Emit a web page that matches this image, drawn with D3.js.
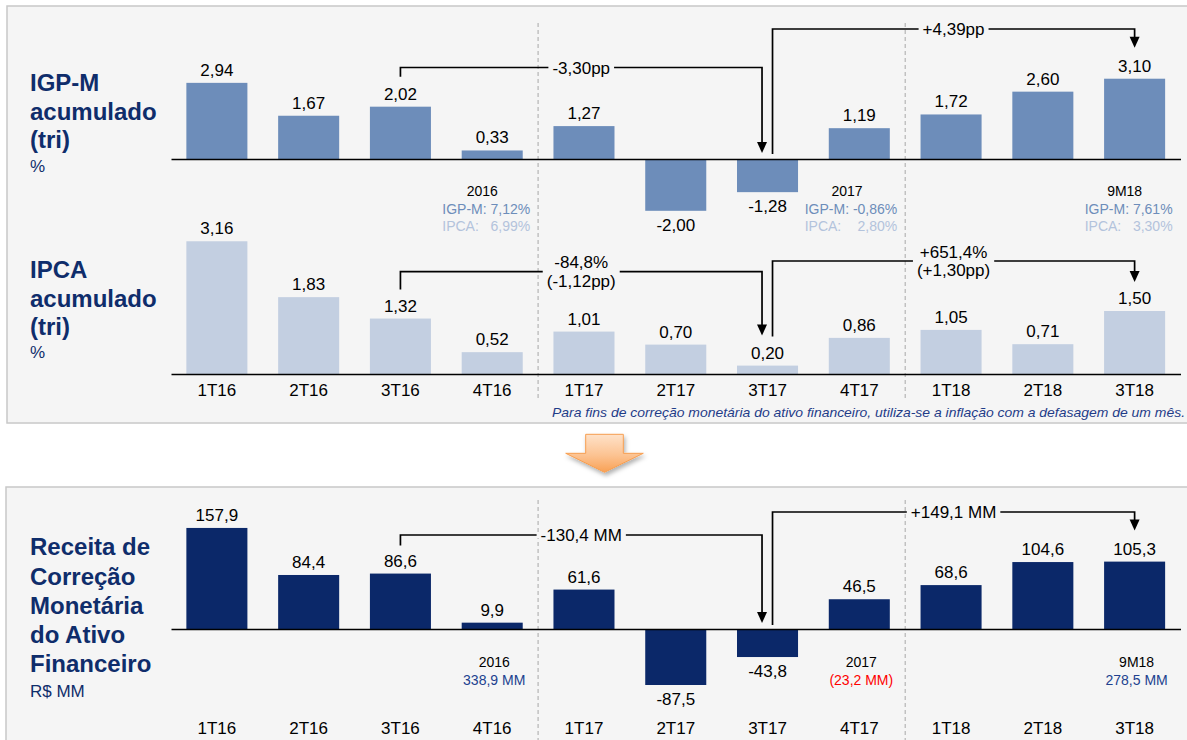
<!DOCTYPE html>
<html>
<head>
<meta charset="utf-8">
<script src="https://cdn.jsdelivr.net/npm/d3@7"></script>
<style>
  body { margin: 0; background: #ffffff; }
  svg { display: block; }
  text { font-family: "Liberation Sans", Arial, Helvetica, sans-serif; }
</style>
</head>
<body>
<svg id="chart" width="1187" height="740"></svg>
<script>
// Quarterly series
const categories = ["1T16", "2T16", "3T16", "4T16", "1T17", "2T17", "3T17", "4T17", "1T18", "2T18", "3T18"];
const igpmValues = [2.94, 1.67, 2.02, 0.33, 1.27, -2.00, -1.28, 1.19, 1.72, 2.60, 3.10];
const ipcaValues = [3.16, 1.83, 1.32, 0.52, 1.01, 0.70, 0.20, 0.86, 1.05, 0.71, 1.50];
const receitaValues = [157.9, 84.4, 86.6, 9.9, 61.6, -87.5, -43.8, 46.5, 68.6, 104.6, 105.3];

// First quarter of each new year (separators are drawn before these)
const yearStarts = ["1T17", "1T18"];

// Period-to-period changes (from 3T16 to 3T17, and from 3T17 to 3T18)
const changePeriods = [["3T16", "3T17"], ["3T17", "3T18"]];
const igpmChanges = ["-3,30pp", "+4,39pp"];
const ipcaChanges = [["-84,8%", "(-1,12pp)"], ["+651,4%", "(+1,30pp)"]];
const receitaChanges = ["-130,4 MM", "+149,1 MM"];

// Yearly totals
const totalAnchors = ["4T16", "4T17", "3T18"];
const totalPeriods = ["2016", "2017", "9M18"];
const igpmTotals = ["7,12%", "-0,86%", "7,61%"];
const ipcaTotals = ["6,99%", "2,80%", "3,30%"];
const receitaTotals = ["338,9 MM", "(23,2 MM)", "278,5 MM"];

const footnote = "Para fins de correção monetária do ativo financeiro, utiliza-se a inflação com a defasagem de um mês.";

// Colours
const navy = "#0b2869";
const titleNavy = "#0f2d6b";
const igpmColor = "#6d8dba";
const ipcaColor = "#c3cfe1";
const ipcaText = "#b3c3dc";
const panelFill = "#f5f5f5";

const svg = d3.select("#chart");
// Brazilian number format: comma decimal, plain hyphen for negatives
const ptBR = d3.formatLocale({ decimal: ",", thousands: ".", grouping: [3], currency: ["R$", ""], minus: "-" });
const fmt2 = ptBR.format(".2f");
const fmt1 = ptBR.format(".1f");

// ---------- panels ----------
svg.append("rect").attr("x", 7).attr("y", 6).attr("width", 1210).attr("height", 417)
  .attr("fill", panelFill).attr("stroke", "#c8c8c8").attr("stroke-width", 1.5);
svg.append("rect").attr("x", 6).attr("y", 487).attr("width", 1210).attr("height", 300)
  .attr("fill", panelFill).attr("stroke", "#c8c8c8").attr("stroke-width", 1.5);

// ---------- orange connector arrow ----------
const defs = svg.append("defs");
const grad = defs.append("linearGradient").attr("id", "orangeGrad")
  .attr("x1", 0).attr("y1", 0).attr("x2", 0).attr("y2", 1);
grad.append("stop").attr("offset", "0%").attr("stop-color", "#fee2c9");
grad.append("stop").attr("offset", "55%").attr("stop-color", "#fcc392");
grad.append("stop").attr("offset", "100%").attr("stop-color", "#f9a155");
const shadow = defs.append("filter").attr("id", "arrowShadow")
  .attr("x", "-30%").attr("y", "-30%").attr("width", "160%").attr("height", "160%");
shadow.append("feDropShadow").attr("dx", 1.5).attr("dy", 3).attr("stdDeviation", 2)
  .attr("flood-color", "#000").attr("flood-opacity", 0.3);

svg.append("path")
  .attr("d", "M585.7,434.3 H623.3 V453.3 H643.3 L604.5,472.3 L565.7,453.3 H585.7 Z")
  .attr("fill", "url(#orangeGrad)").attr("stroke", "#f79e50").attr("stroke-width", 1)
  .attr("filter", "url(#arrowShadow)");

// ---------- scales ----------
const x = d3.scaleBand().domain(categories).range([171, 1180.5])
  .paddingInner(0.335).paddingOuter(0.1675);
const xc = c => x(c) + x.bandwidth() / 2;

const yIgpm = d3.scaleLinear().domain([-2.5, 3.5]).range([223.75, 68.35]);
const yIpca = d3.scaleLinear().domain([0, 3.5]).range([374, 227]);
const yRec = d3.scaleLinear().domain([-100, 170]).range([693, 520.2]);

// ---------- year separators ----------
function separators(y0, y1) {
  svg.append("g").selectAll("line").data(yearStarts).join("line")
    .attr("x1", c => x(c) - x.step() * x.paddingInner() / 2)
    .attr("x2", c => x(c) - x.step() * x.paddingInner() / 2)
    .attr("y1", y0).attr("y2", y1)
    .attr("stroke", "#a8a8a8").attr("stroke-width", 1).attr("stroke-dasharray", "4,3");
}
separators(23, 399);
separators(500, 745);

// ---------- bars ----------
function bars(values, y, color, fmt) {
  const data = categories.map((c, i) => ({ c, v: values[i] }));
  const g = svg.append("g");
  g.selectAll("rect").data(data).join("rect")
    .attr("x", d => x(d.c))
    .attr("width", x.bandwidth())
    .attr("y", d => Math.min(y(d.v), y(0)))
    .attr("height", d => Math.abs(y(d.v) - y(0)))
    .attr("fill", color);
  g.selectAll("text").data(data).join("text")
    .attr("x", d => xc(d.c))
    .attr("y", d => d.v >= 0 ? y(d.v) - 7 : y(d.v) + 20)
    .attr("text-anchor", "middle")
    .attr("font-size", 17)
    .attr("fill", "#000")
    .text(d => fmt(d.v));
}

function baseline(yPos, withLabels, padding) {
  const axis = d3.axisBottom(x).tickSize(0).tickSizeOuter(0).tickPadding(padding || 0);
  if (!withLabels) axis.tickFormat("");
  const g = svg.append("g").attr("transform", `translate(0,${yPos})`).call(axis);
  g.select(".domain").attr("stroke", "#000").attr("stroke-width", 1.4);
  g.selectAll("text").attr("font-size", 17).attr("fill", "#000")
    .attr("font-family", '"Liberation Sans", Arial, sans-serif');
}

bars(igpmValues, yIgpm, igpmColor, fmt2);
baseline(yIgpm(0), false);

bars(ipcaValues, yIpca, ipcaColor, fmt2);
baseline(yIpca(0), true, 10);

bars(receitaValues, yRec, navy, fmt1);
baseline(yRec(0), true, 93);

// ---------- change annotations ----------
// Bracket from one bar up to a horizontal line, then an arrow down to another bar.
function changeArrow(fromX, fromY, lineY, toX, tipY, lines) {
  const g = svg.append("g");
  g.append("path")
    .attr("d", `M${fromX},${fromY} V${lineY} H${toX} V${tipY - 10}`)
    .attr("fill", "none").attr("stroke", "#000").attr("stroke-width", 1.7);
  g.append("path")
    .attr("d", `M${toX - 5},${tipY - 11} L${toX + 5},${tipY - 11} L${toX},${tipY} Z`)
    .attr("fill", "#000");
  const cx = (fromX + toX) / 2;
  const bg = g.append("rect").attr("fill", panelFill);
  const t = g.append("text").attr("text-anchor", "middle").attr("font-size", 17).attr("fill", "#000");
  if (lines.length === 1) {
    t.append("tspan").attr("x", cx).attr("y", lineY + 6).text(lines[0]);
  } else {
    t.append("tspan").attr("x", cx).attr("y", lineY - 3.5).text(lines[0]);
    t.append("tspan").attr("x", cx).attr("y", lineY + 15).text(lines[1]);
  }
  const bb = t.node().getBBox();
  bg.attr("x", bb.x - 4).attr("y", lineY - 3).attr("width", bb.width + 8).attr("height", 6);
}

const [a0, a1] = changePeriods[0];
const [b0, b1] = changePeriods[1];
const iA0 = categories.indexOf(a0), iA1 = categories.indexOf(a1);
const iB1 = categories.indexOf(b1);

// IGP-M
changeArrow(xc(a0), yIgpm(igpmValues[iA0]) - 30, 67.5, xc(a1) - 5.5, yIgpm(0) - 6, [igpmChanges[0]]);
changeArrow(xc(b0) + 5, yIgpm(0) - 5, 29, xc(b1), yIgpm(igpmValues[iB1]) - 31, [igpmChanges[1]]);

// IPCA
changeArrow(xc(a0), yIpca(ipcaValues[iA0]) - 29, 271.7, xc(a1) - 5.5, yIpca(ipcaValues[iA1]) - 30, ipcaChanges[0]);
changeArrow(xc(b0) + 5, yIpca(ipcaValues[iA1]) - 29, 261, xc(b1), yIpca(ipcaValues[iB1]) - 29, ipcaChanges[1]);

// Receita
changeArrow(xc(a0), yRec(receitaValues[iA0]) - 28, 535, xc(a1) - 5.5, yRec(0) - 6, [receitaChanges[0]]);
changeArrow(xc(b0) + 5, yRec(0) - 4, 512, xc(b1), yRec(receitaValues[iB1]) - 31, [receitaChanges[1]]);

// ---------- yearly totals ----------
totalAnchors.forEach((c, i) => {
  const right = xc(c) + 38;
  const g = svg.append("g").attr("font-size", 14);
  const igpmLine = g.append("text").attr("x", right).attr("y", 214).attr("text-anchor", "end")
    .attr("fill", igpmColor).text("IGP-M: " + igpmTotals[i]);
  const w = igpmLine.node().getComputedTextLength();
  const left = right - w;
  g.append("text").attr("x", left).attr("y", 231).attr("fill", ipcaText).text("IPCA:");
  g.append("text").attr("x", right).attr("y", 231).attr("text-anchor", "end")
    .attr("fill", ipcaText).text(ipcaTotals[i]);
  g.append("text").attr("x", (left + right) / 2 - 4).attr("y", 196).attr("text-anchor", "middle")
    .attr("fill", "#000").text(totalPeriods[i]);

  // Receita totals
  const gb = svg.append("g").attr("font-size", 14).attr("text-anchor", "middle");
  gb.append("text").attr("x", xc(c) + 2).attr("y", 667).attr("fill", "#000").text(totalPeriods[i]);
  gb.append("text").attr("x", xc(c) + 2).attr("y", 685)
    .attr("fill", receitaTotals[i].startsWith("(") ? "#ff0000" : "#21418f")
    .text(receitaTotals[i]);
});

// ---------- titles ----------
function title(lines, unit, baselines, unitY) {
  const g = svg.append("g").attr("fill", titleNavy);
  lines.forEach((l, i) => {
    g.append("text").attr("x", 30).attr("y", baselines[i]).attr("font-size", 24)
      .attr("font-weight", "bold").text(l);
  });
  g.append("text").attr("x", 30).attr("y", unitY).attr("font-size", 17).text(unit);
}
title(["IGP-M", "acumulado", "(tri)"], "%", [91, 119.5, 148], 172);
title(["IPCA", "acumulado", "(tri)"], "%", [278, 306.5, 335], 358);
title(["Receita de", "Correção", "Monetária", "do Ativo", "Financeiro"], "R$ MM", [555, 584.5, 614, 643, 672], 697);

// ---------- footnote ----------
svg.append("text").attr("x", 1185).attr("y", 417).attr("text-anchor", "end")
  .attr("font-size", 13).attr("font-style", "italic").attr("fill", "#1f3c88")
  .attr("textLength", 633).attr("lengthAdjust", "spacingAndGlyphs")
  .text(footnote);
</script>
</body>
</html>
